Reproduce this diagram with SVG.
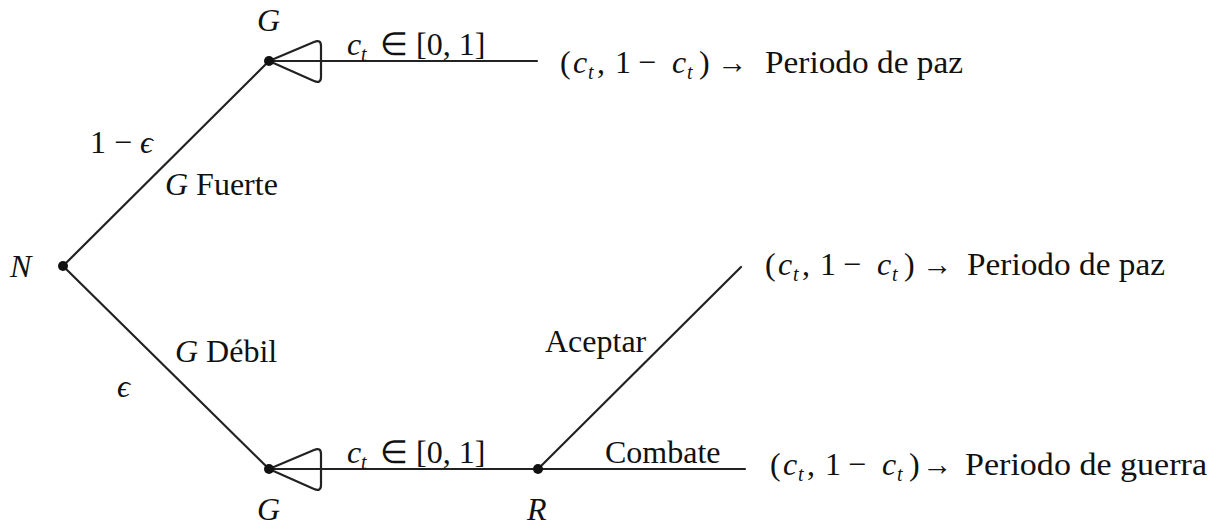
<svg xmlns="http://www.w3.org/2000/svg" width="1219" height="528" viewBox="0 0 1219 528">
<style>
text{fill:#111;font-size:32px}
.i{font-style:italic}
.s{font-size:20px;font-style:italic}
.ln{stroke:#222;stroke-width:2.2;fill:none;stroke-linecap:round;stroke-linejoin:round}
</style>
<rect width="1219" height="528" fill="#fff"/>
<g id="connectors">
<path class="ln" d="M63,266 L269,61"/>
<path class="ln" d="M63,266 L269,469"/>
<path class="ln" d="M269,61 L537,61"/>
<path class="ln" d="M269,469 L745,469"/>
<path class="ln" d="M538,469 L741,267"/>
<path class="ln" d="M269,61 L314,42 Q321,39 321,46 L321,77 Q321,84 314,81 Z"/>
<path class="ln" d="M269,469 L314,450 Q321,447 321,454 L321,485 Q321,492 314,489 Z"/>
<text font-family="Liberation Serif" x="347" y="55"><tspan class="i">c</tspan><tspan class="s" x="361" dy="6">t</tspan><tspan dy="-6" x="380">∈ [0, 1]</tspan></text>
<text font-family="Liberation Serif" x="347" y="463"><tspan class="i">c</tspan><tspan class="s" x="361" dy="6">t</tspan><tspan dy="-6" x="380">∈ [0, 1]</tspan></text>
<text font-family="Liberation Serif" x="90" y="153">1 − <tspan class="i">ϵ</tspan></text>
<text font-family="Liberation Serif" x="165" y="195"><tspan class="i">G</tspan> Fuerte</text>
<text font-family="Liberation Serif" x="175" y="362"><tspan class="i">G</tspan> Débil</text>
<text font-family="Liberation Serif" x="117" y="397" class="i">ϵ</text>
<text font-family="Liberation Serif" x="545" y="352">Aceptar</text>
<text font-family="Liberation Serif" x="605" y="463">Combate</text>
</g>
<g id="node-N">
<circle cx="63" cy="266" r="5" fill="#111"/>
<text font-family="Liberation Serif" x="10" y="277" class="i">N</text>
</g>
<g id="node-G-top">
<circle cx="269" cy="61" r="5" fill="#111"/>
<text font-family="Liberation Serif" x="257" y="31" class="i">G</text>
</g>
<g id="node-G-bottom">
<circle cx="269" cy="469" r="5" fill="#111"/>
<text font-family="Liberation Serif" x="257" y="520" class="i">G</text>
</g>
<g id="node-R">
<circle cx="538" cy="469" r="5" fill="#111"/>
<text font-family="Liberation Serif" x="527" y="520" class="i">R</text>
</g>
<g id="payoff-1" transform="translate(560,73)">
<text font-family="Liberation Serif" x="0" y="0">(<tspan class="i" x="13">c</tspan><tspan class="s" x="28" dy="6">t</tspan><tspan x="37" dy="-6">,</tspan><tspan x="55">1</tspan><tspan x="78">−</tspan><tspan class="i" x="112">c</tspan><tspan class="s" x="127" dy="6">t</tspan><tspan x="139" dy="-6">)</tspan></text>
<text font-family="Liberation Serif" x="157" y="0" textLength="30" lengthAdjust="spacingAndGlyphs" font-size="26">→</text>
<text font-family="Liberation Serif" x="205" y="0" textLength="198" lengthAdjust="spacingAndGlyphs">Periodo de paz</text>
</g>
<g id="payoff-2" transform="translate(765,275)">
<text font-family="Liberation Serif" x="0" y="0">(<tspan class="i" x="13">c</tspan><tspan class="s" x="28" dy="6">t</tspan><tspan x="37" dy="-6">,</tspan><tspan x="55">1</tspan><tspan x="78">−</tspan><tspan class="i" x="112">c</tspan><tspan class="s" x="127" dy="6">t</tspan><tspan x="139" dy="-6">)</tspan></text>
<text font-family="Liberation Serif" x="157" y="0" textLength="30" lengthAdjust="spacingAndGlyphs" font-size="26">→</text>
<text font-family="Liberation Serif" x="202" y="0" textLength="198" lengthAdjust="spacingAndGlyphs">Periodo de paz</text>
</g>
<g id="payoff-3" transform="translate(770,475)">
<text font-family="Liberation Serif" x="0" y="0">(<tspan class="i" x="13">c</tspan><tspan class="s" x="28" dy="6">t</tspan><tspan x="37" dy="-6">,</tspan><tspan x="55">1</tspan><tspan x="78">−</tspan><tspan class="i" x="112">c</tspan><tspan class="s" x="127" dy="6">t</tspan><tspan x="139" dy="-6">)</tspan></text>
<text font-family="Liberation Serif" x="152" y="0" textLength="30" lengthAdjust="spacingAndGlyphs" font-size="26">→</text>
<text font-family="Liberation Serif" x="195" y="0" textLength="242" lengthAdjust="spacingAndGlyphs">Periodo de guerra</text>
</g>
</svg>
